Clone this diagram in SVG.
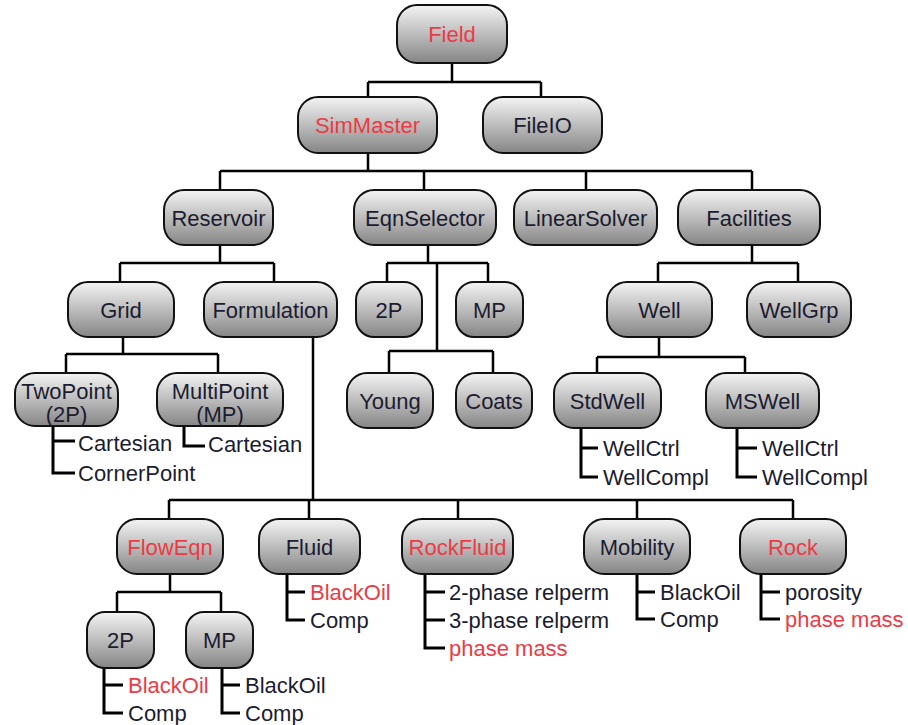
<svg xmlns="http://www.w3.org/2000/svg" width="908" height="725" viewBox="0 0 908 725">
<defs>
<linearGradient id="g" x1="0" y1="0" x2="0" y2="1">
<stop offset="0" stop-color="#f4f4f4"/>
<stop offset="1" stop-color="#858585"/>
</linearGradient>
<style>
.n{fill:url(#g);stroke:#111;stroke-width:2}
.t{font-family:"Liberation Sans",Arial,sans-serif;font-size:22px;fill:#1c1c30;text-anchor:middle}
.s{font-family:"Liberation Sans",Arial,sans-serif;font-size:22px;fill:#1c1c30}
.r{fill:#ee3a44}
.c{fill:none;stroke:#000;stroke-width:2.5}
.l{fill:none;stroke:#000;stroke-width:3}
</style>
</defs>
<rect width="908" height="725" fill="#fff"/>
<g id="connectors">
<path class="c" d="M452 63V82M368 82H541M368 82V97M541 82V97"/>
<path class="c" d="M368 153V171M220 171H752M220 171V190M424 171V190M586 171V190M752 171V190"/>
<path class="c" d="M220 245V263M120 263H274M120 263V282M274 263V282"/>
<path class="c" d="M428 245V263M387 263H488M387 263V282M488 263V282M437 263V351M389 351H493M389 351V373M493 351V373"/>
<path class="c" d="M752 245V263M658 263H798M658 263V282M798 263V282"/>
<path class="c" d="M123 337V354M66 354H218M66 354V373M218 354V373"/>
<path class="c" d="M659 337V357M597 357H745M597 357V373M745 357V373"/>
<path class="c" d="M313 337V500M169 500H793M169 500V519M309 500V519M458 500V519M637 500V519M793 500V519"/>
<path class="c" d="M170 574V592M117 592H221M117 592V612M221 592V612"/>
<path class="l" d="M53 426V473H75M53 441H75"/>
<path class="l" d="M184 426V446H205"/>
<path class="l" d="M581 428V477H598M581 448H598"/>
<path class="l" d="M737 428V477H757M737 448H757"/>
<path class="l" d="M287 574V620H305M287 592H305"/>
<path class="l" d="M425 574V648H445M425 592H445M425 620H445"/>
<path class="l" d="M637 574V619H655M637 592H655"/>
<path class="l" d="M761 574V619H780M761 592H780"/>
<path class="l" d="M104 668V713H123M104 685H123"/>
<path class="l" d="M222 668V713H240M222 685H240"/>
</g>
<g id="field"><rect class="n" x="397" y="5" width="110" height="58" rx="20"/><text class="t r" x="452" y="42">Field</text></g>
<g id="simmaster"><rect class="n" x="298" y="97" width="139" height="56" rx="20"/><text class="t r" x="367.5" y="133">SimMaster</text></g>
<g id="fileio"><rect class="n" x="483" y="97" width="119" height="56" rx="20"/><text class="t" x="542.5" y="133">FileIO</text></g>
<g id="reservoir"><rect class="n" x="164" y="190" width="109" height="55" rx="20"/><text class="t" x="218.5" y="225.5">Reservoir</text></g>
<g id="eqnselector"><rect class="n" x="354" y="190" width="142" height="55" rx="20"/><text class="t" x="425" y="225.5">EqnSelector</text></g>
<g id="linearsolver"><rect class="n" x="514" y="190" width="143" height="55" rx="20"/><text class="t" x="585.5" y="225.5">LinearSolver</text></g>
<g id="facilities"><rect class="n" x="678" y="190" width="142" height="55" rx="20"/><text class="t" x="749" y="225.5">Facilities</text></g>
<g id="grid"><rect class="n" x="68" y="282" width="106" height="55" rx="20"/><text class="t" x="121" y="317.5">Grid</text></g>
<g id="formulation"><rect class="n" x="204" y="282" width="133" height="55" rx="20"/><text class="t" x="270.5" y="317.5">Formulation</text></g>
<g id="eqn-2p"><rect class="n" x="356" y="282" width="66" height="55" rx="18"/><text class="t" x="389" y="317.5">2P</text></g>
<g id="eqn-mp"><rect class="n" x="456" y="282" width="67" height="55" rx="18"/><text class="t" x="489.5" y="317.5">MP</text></g>
<g id="well"><rect class="n" x="607" y="282" width="105" height="55" rx="20"/><text class="t" x="659.5" y="317.5">Well</text></g>
<g id="wellgrp"><rect class="n" x="747" y="282" width="104" height="55" rx="20"/><text class="t" x="799" y="317.5">WellGrp</text></g>
<g id="twopoint"><rect class="n" x="15" y="373" width="103" height="53" rx="20"/><text class="t" x="66.5" y="399">TwoPoint</text><text class="t" x="66.5" y="422">(2P)</text>
<text class="s" x="78" y="451">Cartesian</text><text class="s" x="78" y="481">CornerPoint</text></g>
<g id="multipoint"><rect class="n" x="157" y="373" width="126" height="53" rx="20"/><text class="t" x="220" y="399">MultiPoint</text><text class="t" x="220" y="422">(MP)</text>
<text class="s" x="208" y="452">Cartesian</text></g>
<g id="young"><rect class="n" x="347" y="373" width="86" height="55" rx="20"/><text class="t" x="390" y="408.5">Young</text></g>
<g id="coats"><rect class="n" x="456" y="373" width="76" height="55" rx="20"/><text class="t" x="494" y="408.5">Coats</text></g>
<g id="stdwell"><rect class="n" x="554" y="373" width="107" height="55" rx="20"/><text class="t" x="607.5" y="408.5">StdWell</text>
<text class="s" x="603" y="456">WellCtrl</text><text class="s" x="603" y="485">WellCompl</text></g>
<g id="mswell"><rect class="n" x="706" y="373" width="113" height="55" rx="20"/><text class="t" x="762.5" y="408.5">MSWell</text>
<text class="s" x="762" y="456">WellCtrl</text><text class="s" x="762" y="485">WellCompl</text></g>
<g id="floweqn"><rect class="n" x="117" y="519" width="106" height="55" rx="20"/><text class="t r" x="170" y="554.5">FlowEqn</text></g>
<g id="fluid"><rect class="n" x="259" y="519" width="101" height="55" rx="20"/><text class="t" x="309.5" y="554.5">Fluid</text>
<text class="s r" x="310" y="600">BlackOil</text><text class="s" x="310" y="628">Comp</text></g>
<g id="rockfluid"><rect class="n" x="402" y="519" width="111" height="55" rx="20"/><text class="t r" x="457.5" y="554.5">RockFluid</text>
<text class="s" x="449" y="600">2-phase relperm</text><text class="s" x="449" y="628">3-phase relperm</text><text class="s r" x="449" y="656">phase mass</text></g>
<g id="mobility"><rect class="n" x="584" y="519" width="106" height="55" rx="20"/><text class="t" x="637" y="554.5">Mobility</text>
<text class="s" x="660" y="600">BlackOil</text><text class="s" x="660" y="627">Comp</text></g>
<g id="rock"><rect class="n" x="740" y="519" width="106" height="55" rx="20"/><text class="t r" x="793" y="554.5">Rock</text>
<text class="s" x="785" y="600">porosity</text><text class="s r" x="785" y="627">phase mass</text></g>
<g id="flow-2p"><rect class="n" x="87" y="612" width="67" height="56" rx="18"/><text class="t" x="120.5" y="648">2P</text>
<text class="s r" x="128" y="693">BlackOil</text><text class="s" x="128" y="721">Comp</text></g>
<g id="flow-mp"><rect class="n" x="186" y="612" width="67" height="56" rx="18"/><text class="t" x="219.5" y="648">MP</text>
<text class="s" x="245" y="693">BlackOil</text><text class="s" x="245" y="721">Comp</text></g>
</svg>
